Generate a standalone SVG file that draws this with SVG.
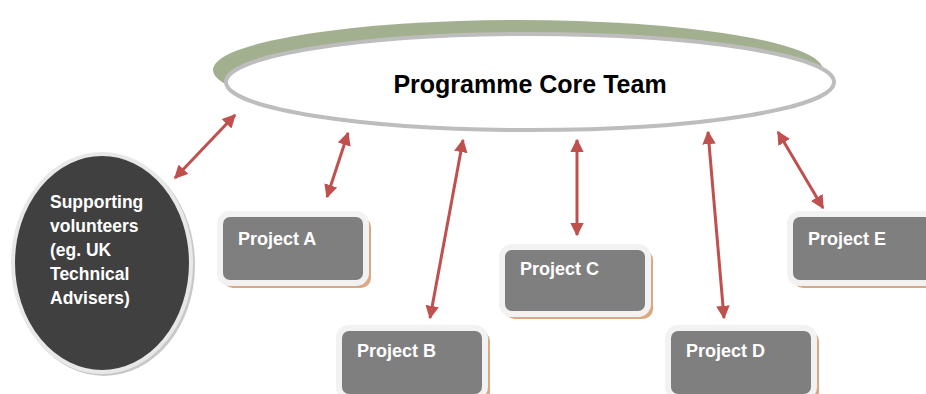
<svg xmlns="http://www.w3.org/2000/svg" width="926" height="394" viewBox="0 0 926 394">
<defs>
<marker id="ah" viewBox="0 0 10 10" refX="9" refY="5" markerWidth="4.5" markerHeight="4.5" orient="auto-start-reverse" markerUnits="strokeWidth">
<path d="M0,0 L10,5 L0,10 z" fill="#c0504d"/>
</marker>
</defs>
<style>
.box{fill:#7f7f7f;stroke:#f2f2f2;stroke-width:6}
.bsh{fill:#d9a884}
.lbl{font-family:"Liberation Sans",Arial,sans-serif;font-weight:bold;font-size:18px;fill:#ffffff}
.vol{font-family:"Liberation Sans",Arial,sans-serif;font-weight:bold;font-size:17.5px;fill:#ffffff}
.con{stroke:#c0504d;stroke-width:3;fill:none;marker-start:url(#ah);marker-end:url(#ah)}
</style>
<rect width="926" height="394" fill="#ffffff"/>
<g id="core">
<ellipse cx="518" cy="70" rx="305" ry="50" fill="#a3b08f"/>
<ellipse cx="530" cy="82" rx="304" ry="48" fill="#ffffff" stroke="#bdbdbd" stroke-width="4"/>
<text x="530" y="93" text-anchor="middle" font-family="Liberation Sans,Arial,sans-serif" font-weight="bold" font-size="25" fill="#000000">Programme Core Team</text>
</g>
<g id="volunteers">
<ellipse cx="104" cy="265" rx="91" ry="111" fill="#c8c8c8"/>
<ellipse cx="102" cy="263" rx="89" ry="109" fill="#404040" stroke="#e8e8e8" stroke-width="4"/>
<text class="vol" x="50"><tspan x="50" y="208">Supporting</tspan><tspan x="50" y="232">volunteers</tspan><tspan x="50" y="256">(eg. UK</tspan><tspan x="50" y="280">Technical</tspan><tspan x="50" y="304">Advisers)</tspan></text>
</g>
<g id="projA">
<rect class="bsh" x="223" y="217" width="148" height="71" rx="10"/>
<rect class="box" x="220" y="214" width="146" height="69" rx="10"/>
<text class="lbl" x="238" y="245">Project A</text>
</g>
<g id="projB">
<rect class="bsh" x="342" y="331" width="148" height="71" rx="10"/>
<rect class="box" x="339" y="328" width="146" height="69" rx="10"/>
<text class="lbl" x="357" y="357">Project B</text>
</g>
<g id="projC">
<rect class="bsh" x="505" y="250" width="148" height="69" rx="10"/>
<rect class="box" x="502" y="247" width="146" height="67" rx="10"/>
<text class="lbl" x="520" y="275">Project C</text>
</g>
<g id="projD">
<rect class="bsh" x="671" y="331" width="148" height="71" rx="10"/>
<rect class="box" x="668" y="328" width="146" height="69" rx="10"/>
<text class="lbl" x="686" y="357">Project D</text>
</g>
<g id="projE">
<rect class="bsh" x="793" y="217" width="148" height="71" rx="10"/>
<rect class="box" x="790" y="214" width="146" height="69" rx="10"/>
<text class="lbl" x="808" y="245">Project E</text>
</g>
<g id="connectors">
<line class="con" x1="235" y1="115" x2="175" y2="178"/>
<line class="con" x1="348" y1="133" x2="327" y2="197"/>
<line class="con" x1="463" y1="140" x2="430" y2="318"/>
<line class="con" x1="577" y1="140" x2="577" y2="235"/>
<line class="con" x1="708" y1="132" x2="724" y2="318"/>
<line class="con" x1="778" y1="132" x2="823" y2="208"/>
</g>
</svg>
